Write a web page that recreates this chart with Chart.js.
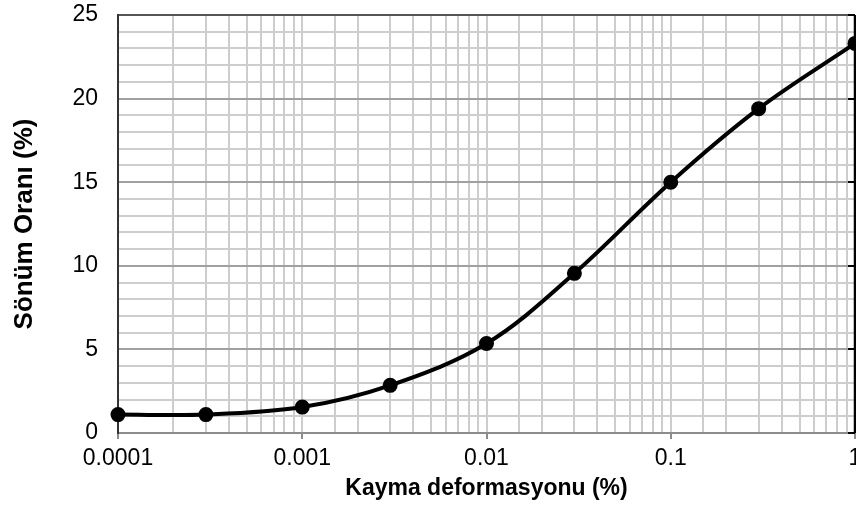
<!DOCTYPE html>
<html>
<head>
<meta charset="utf-8">
<script src="https://cdn.jsdelivr.net/npm/chart.js@4/dist/chart.umd.min.js"></script>
<style>
  html, body { margin: 0; padding: 0; background: #fff; overflow: hidden; }
  #wrap { width: 866px; height: 512px; }
</style>
</head>
<body>
<div id="wrap"><canvas id="damping-chart" width="866" height="512"></canvas></div>
<script>
// shear strain (%) vs damping ratio (%)
const strain = [0.0001, 0.0003, 0.001, 0.003, 0.01, 0.03, 0.1, 0.3, 1];
const damping = [1.1, 1.1, 1.55, 2.85, 5.35, 9.55, 15.0, 19.4, 23.3];
const xDecades = [0.0001, 0.001, 0.01, 0.1, 1];
const xTickLabels = ['0.0001', '0.001', '0.01', '0.1', '1'];
const yMajorTicks = [0, 5, 10, 15, 20, 25];

const FONT = "'Liberation Sans', Arial, sans-serif";

const isDecade = v => Math.abs(Math.log10(v) - Math.round(Math.log10(v))) < 1e-9;
const isYMajor = v => yMajorTicks.includes(v);

// right-hand frame with small inward ticks at the labelled y values
const rightFrame = {
  id: 'rightFrame',
  afterDraw(chart) {
    const {ctx, chartArea: a, scales: {y}} = chart;
    ctx.save();
    ctx.strokeStyle = '#000';
    ctx.lineWidth = 2.5;
    ctx.beginPath();
    ctx.moveTo(a.right, a.top);
    ctx.lineTo(a.right, a.bottom);
    ctx.stroke();
    ctx.lineWidth = 2;
    yMajorTicks.forEach(v => {
      const py = Math.round(y.getPixelForValue(v));
      ctx.beginPath();
      ctx.moveTo(a.right - 7, py);
      ctx.lineTo(a.right, py);
      ctx.stroke();
    });
    ctx.restore();
  }
};

new Chart(document.getElementById('damping-chart').getContext('2d'), {
  type: 'line',
  data: {
    datasets: [{
      data: strain.map((x, i) => ({x, y: damping[i]})),
      borderColor: '#000',
      backgroundColor: '#000',
      borderWidth: 4,
      pointRadius: 5.5,
      pointHoverRadius: 5.5,
      tension: 0.35,
      fill: false,
      clip: false
    }]
  },
  options: {
    responsive: false,
    animation: false,
    events: [],
    layout: { padding: { left: 0, right: 11, top: 15, bottom: 0 } },
    plugins: { legend: { display: false }, tooltip: { enabled: false } },
    scales: {
      x: {
        type: 'logarithmic',
        min: 0.0001,
        max: 1,
        afterFit(scale) {
          scale.height = 79;
          scale.paddingLeft = 0;
          scale.paddingRight = 0;
        },
        border: { color: '#8c8c8c', width: 2 },
        grid: {
          color: '#cdcdcd',
          lineWidth: 2,
          tickLength: 6,
          tickWidth: 2,
          tickColor: ctx => (ctx.tick && isDecade(ctx.tick.value)) ? '#8c8c8c' : 'rgba(0,0,0,0)'
        },
        ticks: {
          autoSkip: false,
          maxRotation: 0,
          padding: 6,
          color: '#000',
          font: { family: FONT, size: 23 },
          callback: v => {
            const i = xDecades.findIndex(d => Math.abs(d - v) / d < 1e-9);
            return i >= 0 ? xTickLabels[i] : '';
          }
        },
        title: {
          display: true,
          text: 'Kayma deformasyonu (%)',
          color: '#000',
          font: { family: FONT, size: 23, weight: 'bold' },
          padding: { top: 0, bottom: 10 }
        }
      },
      y: {
        min: 0,
        max: 25,
        afterFit(scale) {
          scale.width = 118;
          scale.paddingTop = 0;
          scale.paddingBottom = 0;
        },
        border: { color: '#333', width: 2 },
        grid: {
          drawTicks: false,
          lineWidth: 2,
          color: ctx => {
            const v = ctx.tick ? ctx.tick.value : 0;
            if (v === 25) return '#555';
            return isYMajor(v) ? '#a0a0a0' : '#cdcdcd';
          }
        },
        ticks: {
          stepSize: 1,
          autoSkip: false,
          padding: 20,
          color: '#000',
          font: { family: FONT, size: 23 },
          callback: v => isYMajor(v) ? String(v) : ''
        },
        title: {
          display: true,
          text: 'Sönüm Oranı (%)',
          color: '#000',
          font: { family: FONT, size: 26, weight: 'bold' },
          padding: { top: 9, bottom: 0 }
        }
      }
    }
  },
  plugins: [rightFrame]
});
</script>
</body>
</html>
